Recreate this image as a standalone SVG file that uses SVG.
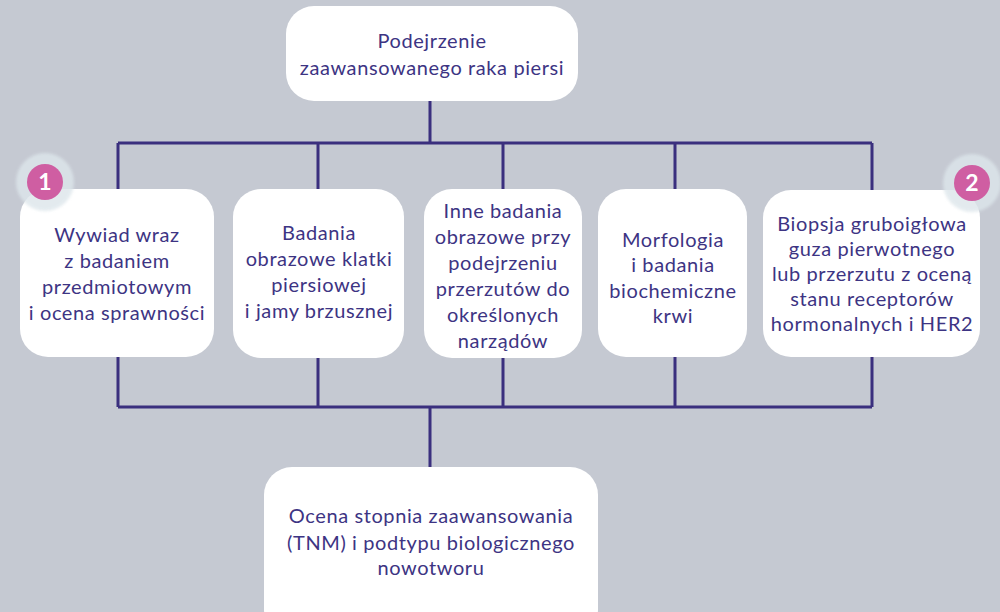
<svg xmlns="http://www.w3.org/2000/svg" width="1000" height="612" viewBox="0 0 1000 612">
<defs>
<style>
.box{fill:#ffffff}
.t{font-family:Lato,"Noto Sans","Liberation Sans",sans-serif;font-size:20px;letter-spacing:0.6px;fill:#3d3483;text-anchor:middle}
.ln{stroke:#3a2f7e;stroke-width:3;fill:none}
.badge{fill:#cf5ea2}
.halo{fill:#dde6eb;opacity:0.8}
.num{font-family:Lato,"Liberation Sans",sans-serif;font-size:23px;font-weight:bold;fill:#ffffff;text-anchor:middle}
</style>
<filter id="soft" x="-50%" y="-50%" width="200%" height="200%"><feGaussianBlur stdDeviation="1.5"/></filter>
</defs>
<rect width="1000" height="612" fill="#c5c9d2"/>
<g id="connectors">
<path class="ln" d="M430 101V143M118 143H872M118 143V189M318 143V189M503 143V189M675 143V189M872 143V190"/>
<path class="ln" d="M118 357V407M318 358V407M503 358V407M675 357V407M872 357V407M118 407H872M430 407V467"/>
</g>
<g id="n0">
<rect class="box" x="286" y="6" width="292" height="95" rx="28"/>
<text class="t" x="432" y="48">Podejrzenie</text>
<text class="t" x="432" y="75">zaawansowanego raka piersi</text>
</g>
<g id="n1">
<rect class="box" x="20" y="189" width="194" height="168" rx="28"/>
<text class="t" x="117" y="242">Wywiad wraz</text>
<text class="t" x="117" y="268">z badaniem</text>
<text class="t" x="117" y="294">przedmiotowym</text>
<text class="t" x="117" y="320">i ocena sprawności</text>
</g>
<g id="n2">
<rect class="box" x="233" y="189" width="171" height="169" rx="28"/>
<text class="t" x="319" y="240">Badania</text>
<text class="t" x="319" y="266">obrazowe klatki</text>
<text class="t" x="319" y="292">piersiowej</text>
<text class="t" x="319" y="318">i jamy brzusznej</text>
</g>
<g id="n3">
<rect class="box" x="424" y="189" width="158" height="169" rx="28"/>
<text class="t" x="503" y="218">Inne badania</text>
<text class="t" x="503" y="244">obrazowe przy</text>
<text class="t" x="503" y="270">podejrzeniu</text>
<text class="t" x="503" y="296">przerzutów do</text>
<text class="t" x="503" y="322">określonych</text>
<text class="t" x="503" y="348">narządów</text>
</g>
<g id="n4">
<rect class="box" x="598" y="189" width="149" height="168" rx="28"/>
<text class="t" x="673" y="247">Morfologia</text>
<text class="t" x="673" y="272">i badania</text>
<text class="t" x="673" y="298">biochemiczne</text>
<text class="t" x="673" y="323">krwi</text>
</g>
<g id="n5">
<rect class="box" x="763" y="190" width="217" height="167" rx="28"/>
<text class="t" x="872" y="231">Biopsja gruboigłowa</text>
<text class="t" x="872" y="256">guza pierwotnego</text>
<text class="t" x="872" y="281">lub przerzutu z oceną</text>
<text class="t" x="872" y="306">stanu receptorów</text>
<text class="t" x="872" y="331">hormonalnych i HER2</text>
</g>
<g id="badge1">
<circle class="halo" cx="45" cy="182" r="29" filter="url(#soft)"/>
<circle class="badge" cx="45" cy="182" r="18"/>
<text class="num" x="45" y="190">1</text>
</g>
<g id="badge2">
<circle class="halo" cx="972" cy="183" r="29" filter="url(#soft)"/>
<circle class="badge" cx="972" cy="183" r="18"/>
<text class="num" x="972" y="191">2</text>
</g>
<g id="n6">
<rect class="box" x="264" y="467" width="334" height="170" rx="28"/>
<text class="t" x="431" y="523">Ocena stopnia zaawansowania</text>
<text class="t" x="431" y="550">(TNM) i podtypu biologicznego</text>
<text class="t" x="431" y="575">nowotworu</text>
</g>
</svg>
